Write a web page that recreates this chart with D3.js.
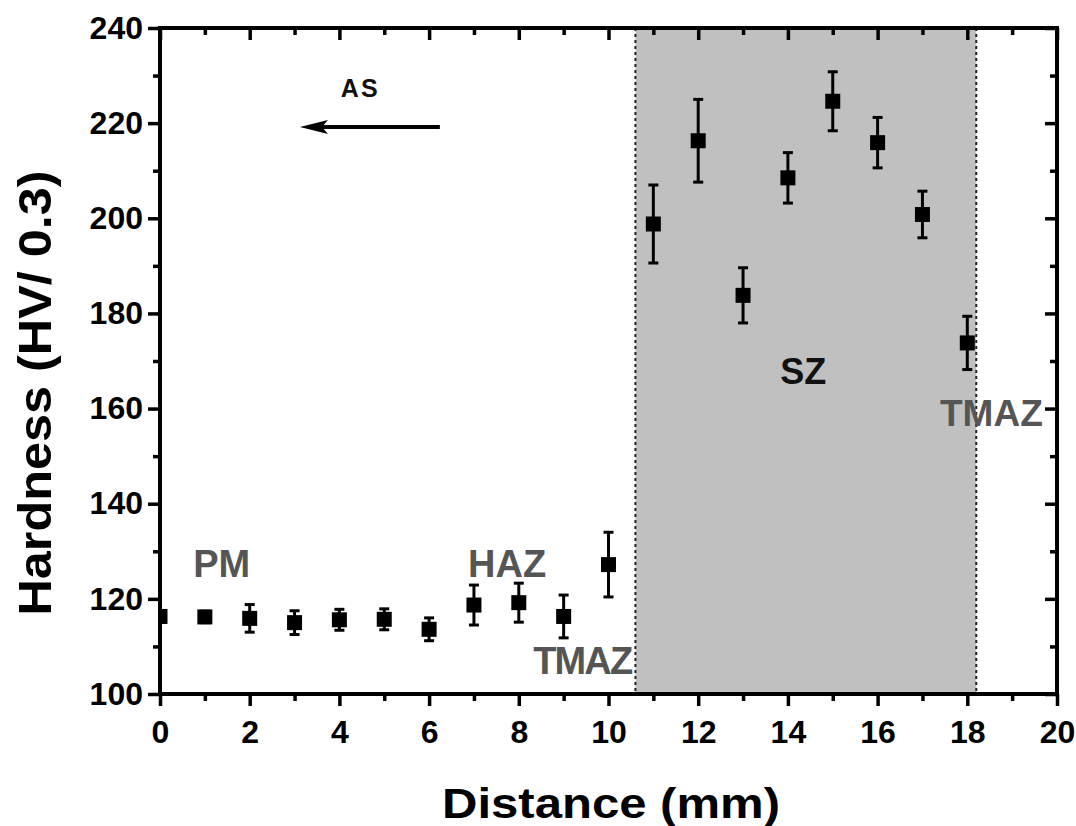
<!DOCTYPE html>
<html>
<head>
<meta charset="utf-8">
<script src="https://cdn.jsdelivr.net/npm/d3@7"></script>
<style>
  body { margin: 0; background: #fff; }
  svg { display: block; font-family: "Liberation Sans", Arial, sans-serif; font-weight: bold; }
</style>
</head>
<body>
<svg id="chart" width="1076" height="826"></svg>
<script>
// measured points (distance in mm, hardness HV0.3, error bar half-length)
var distance = [0, 1, 2, 3, 4, 5, 6, 7, 8, 9, 10, 11, 12, 13, 14, 15, 16, 17, 18];
var hardness = [116.3, 116.2, 115.9, 115.0, 115.6, 115.7, 113.6, 118.7, 119.2, 116.3, 127.2,
                198.8, 216.3, 183.8, 208.5, 224.6, 215.9, 200.8, 173.8];
var errors   = [1.2, 1.2, 2.9, 2.5, 2.2, 2.2, 2.4, 4.2, 4.1, 4.5, 6.8,
                8.2, 8.7, 5.8, 5.3, 6.2, 5.3, 4.9, 5.6];

var xMajor = [0, 2, 4, 6, 8, 10, 12, 14, 16, 18, 20];
var xMinor = [1, 3, 5, 7, 9, 11, 13, 15, 17, 19];
var yMajor = [100, 120, 140, 160, 180, 200, 220, 240];
var yMinor = [110, 130, 150, 170, 190, 210, 230];

// stir zone band
var szBand = [10.6, 18.2];

// zone labels [text, x, y, anchor, colour, size, length]
var zoneLabels = [
  ["PM",    0.74, 124.6, "start",  "#555", 38, null],
  ["HAZ",   6.87, 124.6, "start",  "#555", 38, null],
  ["TMAZ", 10.55, 104.2, "end",    "#555", 38, 100],
  ["SZ",   14.34, 165.2, "middle", "#111", 36, null],
  ["TMAZ", 17.39, 156.3, "start",  "#555", 37, 103],
  ["AS",    4.44, 225.5, "middle", "#111", 25, 37]
];
var arrowFrom = [6.24, 219.2];
var arrowTo   = [3.12, 219.2];

var svg = d3.select("#chart");
var pLeft = 160, pRight = 1057, pTop = 28, pBottom = 694;

var x = d3.scaleLinear().domain([0, 20]).range([pLeft, pRight]);
var y = d3.scaleLinear().domain([100, 240]).range([pBottom, pTop]);

svg.append("defs").append("clipPath").attr("id", "plotClip")
   .append("rect").attr("x", pLeft).attr("y", pTop)
   .attr("width", pRight - pLeft).attr("height", pBottom - pTop);

// grey band for the stir zone
svg.append("rect")
   .attr("x", x(szBand[0])).attr("y", pTop)
   .attr("width", x(szBand[1]) - x(szBand[0])).attr("height", pBottom - pTop)
   .attr("fill", "#c0c0c0");
szBand.forEach(function(v) {
  svg.append("line")
     .attr("x1", x(v)).attr("x2", x(v)).attr("y1", pTop).attr("y2", pBottom)
     .attr("stroke", "#222").attr("stroke-width", 2).attr("stroke-dasharray", "3,3");
});

// error bars and markers
var pts = distance.map(function(d, i) { return {x: d, y: hardness[i], e: errors[i]}; });
var dataG = svg.append("g").attr("clip-path", "url(#plotClip)");

dataG.selectAll(".bar").data(pts).enter().append("line")
     .attr("x1", function(d) { return x(d.x); }).attr("x2", function(d) { return x(d.x); })
     .attr("y1", function(d) { return y(d.y + d.e); }).attr("y2", function(d) { return y(d.y - d.e); })
     .attr("stroke", "#000").attr("stroke-width", 3);
[1, -1].forEach(function(s) {
  dataG.selectAll(".cap" + s).data(pts).enter().append("line")
       .attr("x1", function(d) { return x(d.x) - 5; }).attr("x2", function(d) { return x(d.x) + 5; })
       .attr("y1", function(d) { return y(d.y + s * d.e); }).attr("y2", function(d) { return y(d.y + s * d.e); })
       .attr("stroke", "#000").attr("stroke-width", 3);
});
dataG.selectAll(".pt").data(pts).enter().append("rect")
     .attr("x", function(d) { return x(d.x) - 7.5; })
     .attr("y", function(d) { return y(d.y) - 7.5; })
     .attr("width", 15).attr("height", 15).attr("fill", "#000");

// axes: outer ticks bottom/left, inner ticks top/right
function styleAxis(g) {
  g.select(".domain").remove();
  g.attr("font-family", null).attr("font-size", null);
  g.selectAll(".tick line").attr("stroke", "#000").attr("stroke-width", 3.5);
  g.selectAll("text").attr("fill", "#000").attr("font-size", 32).attr("font-weight", "bold");
}
svg.append("g").attr("transform", "translate(0," + pBottom + ")")
   .call(d3.axisBottom(x).tickValues(xMajor).tickSize(12).tickPadding(14).tickFormat(d3.format("d"))).call(styleAxis);
svg.append("g").attr("transform", "translate(0," + pBottom + ")")
   .call(d3.axisBottom(x).tickValues(xMinor).tickSize(7).tickFormat("")).call(styleAxis);
svg.append("g").attr("transform", "translate(" + pLeft + ",0)")
   .call(d3.axisLeft(y).tickValues(yMajor).tickSize(12).tickPadding(5).tickFormat(d3.format("d"))).call(styleAxis);
svg.append("g").attr("transform", "translate(" + pLeft + ",0)")
   .call(d3.axisLeft(y).tickValues(yMinor).tickSize(7).tickFormat("")).call(styleAxis);
svg.append("g").attr("transform", "translate(0," + pTop + ")")
   .call(d3.axisBottom(x).tickValues(xMajor).tickSize(12).tickFormat("")).call(styleAxis);
svg.append("g").attr("transform", "translate(0," + pTop + ")")
   .call(d3.axisBottom(x).tickValues(xMinor).tickSize(7).tickFormat("")).call(styleAxis);
svg.append("g").attr("transform", "translate(" + pRight + ",0)")
   .call(d3.axisLeft(y).tickValues(yMajor).tickSize(12).tickFormat("")).call(styleAxis);
svg.append("g").attr("transform", "translate(" + pRight + ",0)")
   .call(d3.axisLeft(y).tickValues(yMinor).tickSize(7).tickFormat("")).call(styleAxis);

svg.append("rect")
   .attr("x", pLeft).attr("y", pTop).attr("width", pRight - pLeft).attr("height", pBottom - pTop)
   .attr("fill", "none").attr("stroke", "#000").attr("stroke-width", 4);

// axis titles
svg.append("text").text("Distance (mm)")
   .attr("x", 611).attr("y", 818).attr("text-anchor", "middle")
   .attr("font-size", 43).attr("textLength", 338).attr("lengthAdjust", "spacingAndGlyphs");
svg.append("text").text("Hardness (HV/ 0.3)")
   .attr("transform", "translate(51,393) rotate(-90)").attr("text-anchor", "middle")
   .attr("font-size", 46).attr("textLength", 445).attr("lengthAdjust", "spacingAndGlyphs");

// zone labels
zoneLabels.forEach(function(l) {
  var t = svg.append("text").text(l[0])
     .attr("x", x(l[1])).attr("y", y(l[2])).attr("text-anchor", l[3])
     .attr("fill", l[4]).attr("font-size", l[5]);
  if (l[6]) t.attr("textLength", l[6]).attr("lengthAdjust", "spacing");
});

// advancing side arrow
svg.append("line")
   .attr("x1", x(arrowFrom[0])).attr("y1", y(arrowFrom[1]))
   .attr("x2", x(arrowTo[0]) + 20).attr("y2", y(arrowTo[1]))
   .attr("stroke", "#000").attr("stroke-width", 4);
var ax = x(arrowTo[0]), ay = y(arrowTo[1]);
svg.append("path")
   .attr("d", "M" + ax + "," + ay + " L" + (ax + 28) + "," + (ay - 7) + " L" + (ax + 22) + "," + ay +
              " L" + (ax + 28) + "," + (ay + 7) + " Z")
   .attr("fill", "#000");
</script>
</body>
</html>
